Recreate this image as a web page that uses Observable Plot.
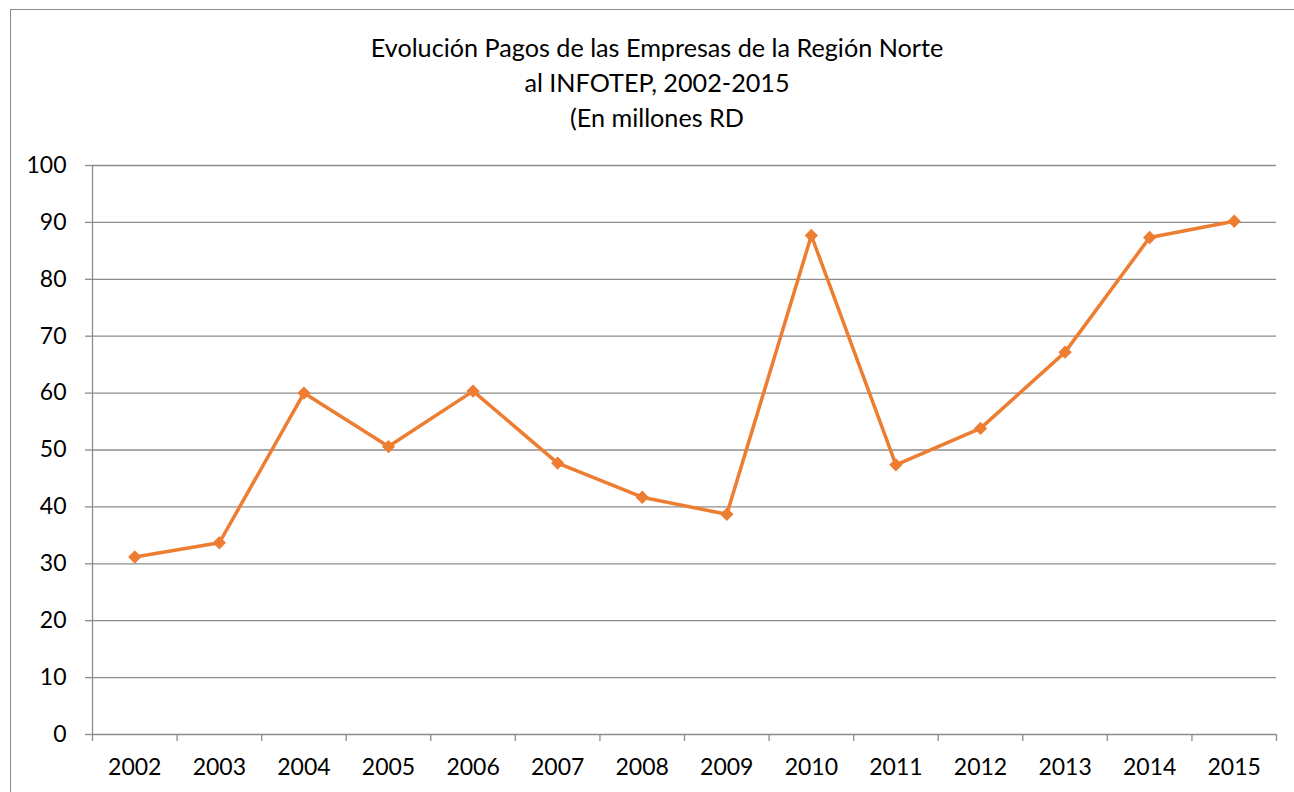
<!DOCTYPE html>
<html>
<head>
<meta charset="utf-8">
<script src="https://cdn.jsdelivr.net/npm/d3@7"></script>
<script src="https://cdn.jsdelivr.net/npm/@observablehq/plot@0.6"></script>
<style>
  html, body { margin: 0; padding: 0; background: #fff; overflow: hidden; }
  #wrap { position: relative; width: 1294px; height: 792px; }
  #frame { position: absolute; left: 10px; top: 9px; width: 1320px; height: 820px; border: 1px solid #8c8c8c; box-sizing: border-box; }
  #title { position: absolute; left: 10px; top: 30px; width: 1294px; text-align: center;
           font-family: Lato, "Open Sans", sans-serif; font-size: 25.2px; line-height: 35px; color: #000; }
  #chart { position: absolute; left: 0; top: 0; }
</style>
</head>
<body>
<div id="wrap">
  <div id="frame"></div>
  <div id="title"></div>
  <div id="chart"></div>
</div>
<script>
const titleLines = ["Evolución Pagos de las Empresas de la Región Norte", "al INFOTEP, 2002-2015", "(En millones RD"];
const years = [2002, 2003, 2004, 2005, 2006, 2007, 2008, 2009, 2010, 2011, 2012, 2013, 2014, 2015];
const pagos = [31.2, 33.7, 60.0, 50.6, 60.35, 47.7, 41.7, 38.7, 87.7, 47.4, 53.8, 67.2, 87.35, 90.2];
const yTicks = [0, 10, 20, 30, 40, 50, 60, 70, 80, 90, 100];

const data = years.map((y, i) => ({year: y, value: pagos[i]}));
const boundaries = [years[0] - 0.5, ...years.map(y => y + 0.5)];

document.getElementById("title").innerHTML = titleLines.map(t => `<div>${t}</div>`).join("");

const orange = "#ED7D31";
const gray = "#8c8c8c";

const chart = Plot.plot({
  width: 1294,
  height: 792,
  marginLeft: 92,
  marginRight: 18,
  marginTop: 165,
  marginBottom: 58,
  style: {fontFamily: "Lato, 'Open Sans', sans-serif", fontSize: "23px", color: "#000", background: "transparent"},
  x: {domain: [years[0] - 0.5, years[years.length - 1] + 0.5]},
  y: {domain: [0, 100]},
  marks: [
    Plot.gridY(yTicks, {stroke: gray, strokeOpacity: 1, strokeWidth: 1.3}),
    Plot.axisY({ticks: yTicks, tickSize: 7, tickPadding: 19, stroke: gray, strokeWidth: 1.3, label: null, fill: "#000"}),
    Plot.ruleX([boundaries[0]], {stroke: gray, strokeWidth: 1.3}),
    Plot.axisX({ticks: boundaries, tickSize: 7, tickFormat: () => "", stroke: gray, strokeWidth: 1.3, label: null}),
    Plot.axisX({ticks: years, tickSize: 0, tickPadding: 24, tickFormat: d => String(d), label: null, fill: "#000"}),
    Plot.line(data, {x: "year", y: "value", stroke: orange, strokeWidth: 3.5, strokeLinejoin: "round"}),
    Plot.dot(data, {x: "year", y: "value", symbol: "diamond2", r: 6, fill: orange, stroke: "none"})
  ]
});
document.getElementById("chart").appendChild(chart);
</script>
</body>
</html>
